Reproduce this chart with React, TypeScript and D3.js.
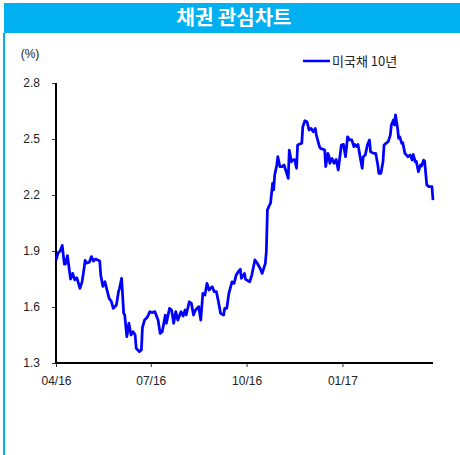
import React, { useEffect, useRef } from 'react';
import * as d3 from 'd3';

// 미국채 10년 yields
const dates = [
  '2016-04-01', '2016-04-03', '2016-04-05', '2016-04-07', '2016-04-09', '2016-04-10', '2016-04-12', '2016-04-14',
  '2016-04-15', '2016-04-17', '2016-04-19', '2016-04-21', '2016-04-24', '2016-04-26', '2016-04-27', '2016-04-29',
  '2016-04-30', '2016-05-03', '2016-05-05', '2016-05-07', '2016-05-09', '2016-05-13', '2016-05-14', '2016-05-16',
  '2016-05-18', '2016-05-20', '2016-05-22', '2016-05-24', '2016-05-26', '2016-05-29', '2016-05-31', '2016-06-01',
  '2016-06-03', '2016-06-05', '2016-06-06', '2016-06-08', '2016-06-10', '2016-06-12', '2016-06-14', '2016-06-16',
  '2016-06-17', '2016-06-20', '2016-06-22', '2016-06-23', '2016-06-25', '2016-06-28', '2016-06-30', '2016-07-02',
  '2016-07-05', '2016-07-08', '2016-07-10', '2016-07-12', '2016-07-15', '2016-07-16', '2016-07-19', '2016-07-21',
  '2016-07-23', '2016-07-25', '2016-07-27', '2016-07-30', '2016-08-01', '2016-08-03', '2016-08-04', '2016-08-07',
  '2016-08-09', '2016-08-11', '2016-08-13', '2016-08-16', '2016-08-18', '2016-08-20', '2016-08-22', '2016-08-24',
  '2016-08-26', '2016-08-29', '2016-08-31', '2016-09-02', '2016-09-04', '2016-09-06', '2016-09-09', '2016-09-10',
  '2016-09-12', '2016-09-14', '2016-09-17', '2016-09-19', '2016-09-21', '2016-09-23', '2016-09-25', '2016-09-26',
  '2016-09-29', '2016-09-30', '2016-10-04', '2016-10-06', '2016-10-09', '2016-10-11', '2016-10-14', '2016-10-16',
  '2016-10-19', '2016-10-20', '2016-10-21', '2016-10-23', '2016-10-24', '2016-10-26', '2016-10-27', '2016-10-28',
  '2016-10-30', '2016-10-31', '2016-11-02', '2016-11-04', '2016-11-06', '2016-11-08', '2016-11-10', '2016-11-11',
  '2016-11-13', '2016-11-14', '2016-11-16', '2016-11-18', '2016-11-19', '2016-11-21', '2016-11-23', '2016-11-24',
  '2016-11-26', '2016-11-28', '2016-11-30', '2016-12-02', '2016-12-04', '2016-12-06', '2016-12-07', '2016-12-10',
  '2016-12-11', '2016-12-14', '2016-12-15', '2016-12-16', '2016-12-18', '2016-12-19', '2016-12-20', '2016-12-22',
  '2016-12-24', '2016-12-26', '2016-12-28', '2016-12-31', '2017-01-02', '2017-01-04', '2017-01-06', '2017-01-08',
  '2017-01-10', '2017-01-12', '2017-01-13', '2017-01-15', '2017-01-16', '2017-01-18', '2017-01-20', '2017-01-21',
  '2017-01-23', '2017-01-25', '2017-01-27', '2017-01-28', '2017-01-31', '2017-02-02', '2017-02-04', '2017-02-05',
  '2017-02-07', '2017-02-09', '2017-02-10', '2017-02-13', '2017-02-14', '2017-02-16', '2017-02-17', '2017-02-19',
  '2017-02-20', '2017-02-21', '2017-02-23', '2017-02-24', '2017-02-25', '2017-02-27', '2017-02-28', '2017-03-02',
  '2017-03-05', '2017-03-07', '2017-03-09', '2017-03-10', '2017-03-12', '2017-03-13', '2017-03-15', '2017-03-17',
  '2017-03-18', '2017-03-20', '2017-03-21', '2017-03-23', '2017-03-25', '2017-03-28', '2017-03-29'
];

const ust10y = [
  1.85, 1.89, 1.90, 1.93, 1.83, 1.83, 1.875, 1.79,
  1.75, 1.78, 1.745, 1.757, 1.70, 1.735, 1.77, 1.85,
  1.835, 1.84, 1.87, 1.846, 1.857, 1.846, 1.77, 1.71,
  1.735, 1.69, 1.646, 1.632, 1.593, 1.611, 1.682, 1.70,
  1.754, 1.566, 1.557, 1.441, 1.513, 1.45, 1.468, 1.45,
  1.379, 1.361, 1.37, 1.49, 1.53, 1.548, 1.575, 1.57,
  1.575, 1.53, 1.459, 1.468, 1.557, 1.513, 1.593, 1.584,
  1.513, 1.575, 1.53, 1.575, 1.552, 1.584, 1.557, 1.628,
  1.62, 1.557, 1.584, 1.602, 1.53, 1.673, 1.664, 1.727,
  1.691, 1.709, 1.682, 1.682, 1.628, 1.566, 1.557, 1.593,
  1.593, 1.673, 1.735, 1.727, 1.771, 1.789, 1.802, 1.754,
  1.78, 1.748, 1.735, 1.771, 1.852, 1.837, 1.807, 1.78,
  1.834, 1.90, 2.12, 2.146, 2.155, 2.263, 2.227, 2.307,
  2.361, 2.405, 2.352, 2.352, 2.361, 2.325, 2.289, 2.441,
  2.378, 2.387, 2.39, 2.343, 2.468, 2.473, 2.477, 2.566,
  2.598, 2.593, 2.548, 2.557, 2.539, 2.557, 2.521, 2.459,
  2.45, 2.444, 2.44, 2.352, 2.423, 2.41, 2.37, 2.396,
  2.37, 2.39, 2.334, 2.468, 2.471, 2.405, 2.512, 2.495,
  2.495, 2.459, 2.471, 2.459, 2.471, 2.405, 2.343, 2.405,
  2.414, 2.468, 2.495, 2.432, 2.423, 2.423, 2.361, 2.316,
  2.316, 2.378, 2.468, 2.482, 2.486, 2.521, 2.575, 2.602,
  2.575, 2.629, 2.557, 2.504, 2.512, 2.477, 2.48, 2.423,
  2.405, 2.414, 2.387, 2.417, 2.378, 2.38, 2.325, 2.361,
  2.355, 2.387, 2.38, 2.254, 2.245, 2.245, 2.173
];

const yTicks = [1.3, 1.6, 1.9, 2.2, 2.5, 2.8];
const title = '채권 관심차트';
const seriesName = '미국채 10년';
const unitLabel = '(%)';

const W = 460;
const H = 455;
const plot = { left: 56, right: 433, top: 83, bottom: 363 };
const BLUE = '#00b0f0';
const labelFont = 'Arial, "Liberation Sans", sans-serif';
const krFont = '"Noto Sans CJK KR", "Noto Sans", sans-serif';

const App = () => {
  const svgRef = useRef<SVGSVGElement>(null);

  useEffect(() => {
    document.body.style.margin = '0';
    const parse = d3.timeParse('%Y-%m-%d');
    const data = dates.map((d, i) => ({ date: parse(d) as Date, value: ust10y[i] }));

    const svg = d3.select(svgRef.current);
    svg.selectAll('*').remove();

    // title bar + left frame
    svg.append('rect').attr('x', 4).attr('y', 3).attr('width', W - 4).attr('height', 30).attr('fill', BLUE);
    svg.append('rect').attr('x', 3).attr('y', 33).attr('width', 2).attr('height', H - 33).attr('fill', BLUE);
    svg.append('text')
      .attr('x', 234).attr('y', 25)
      .attr('text-anchor', 'middle')
      .attr('fill', '#fff')
      .style('font-family', krFont)
      .style('font-weight', '700')
      .style('font-size', '20px')
      .text(title);

    const x = d3.scaleTime()
      .domain([parse('2016-04-01') as Date, parse('2017-03-29') as Date])
      .range([plot.left, plot.right]);

    const y = d3.scaleLinear()
      .domain([1.3, 2.8])
      .range([plot.bottom, plot.top]);

    svg.append('text')
      .attr('x', 30).attr('y', 58)
      .attr('text-anchor', 'middle')
      .attr('fill', '#222')
      .style('font-family', labelFont)
      .style('font-size', '12px')
      .text(unitLabel);

    const yAxis = svg.append('g')
      .attr('transform', `translate(${plot.left},0)`)
      .call(d3.axisLeft(y).tickValues(yTicks).tickFormat(d3.format('.1f')).tickSize(4).tickPadding(12));
    yAxis.select('.domain').remove();
    yAxis.selectAll('line').attr('stroke', '#333');
    yAxis.selectAll('text')
      .attr('fill', '#222')
      .style('font-family', labelFont)
      .style('font-size', '12px');

    const xAxis = svg.append('g')
      .attr('transform', `translate(0,${plot.bottom})`)
      .call(d3.axisBottom(x).ticks(d3.timeMonth.every(3)).tickFormat(d3.timeFormat('%m/%y') as any).tickSize(4).tickPadding(9));
    xAxis.select('.domain').remove();
    xAxis.selectAll('line').attr('stroke', '#333');
    xAxis.selectAll('text')
      .attr('fill', '#222')
      .style('font-family', labelFont)
      .style('font-size', '12px');

    // axis lines
    svg.append('line')
      .attr('x1', plot.left).attr('x2', plot.left)
      .attr('y1', plot.top).attr('y2', plot.bottom + 1)
      .attr('stroke', '#000').attr('stroke-width', 2);
    svg.append('line')
      .attr('x1', plot.left - 1).attr('x2', plot.right)
      .attr('y1', plot.bottom).attr('y2', plot.bottom)
      .attr('stroke', '#000').attr('stroke-width', 2);

    const line = d3.line<{ date: Date; value: number }>()
      .x(d => x(d.date))
      .y(d => y(d.value));

    svg.append('path')
      .datum(data)
      .attr('d', line)
      .attr('fill', 'none')
      .attr('stroke', '#0000ff')
      .attr('stroke-width', 2.75)
      .attr('stroke-linejoin', 'round');

    // legend
    svg.append('line')
      .attr('x1', 303).attr('x2', 330)
      .attr('y1', 61).attr('y2', 61)
      .attr('stroke', '#0000ff').attr('stroke-width', 2.5);
    svg.append('text')
      .attr('x', 332).attr('y', 66)
      .attr('fill', '#222')
      .style('font-family', krFont)
      .style('font-size', '13px')
      .text(seriesName);
  }, []);

  return <svg ref={svgRef} width={W} height={H} style={{ display: 'block', background: '#fff' }} />;
};

export default App;
